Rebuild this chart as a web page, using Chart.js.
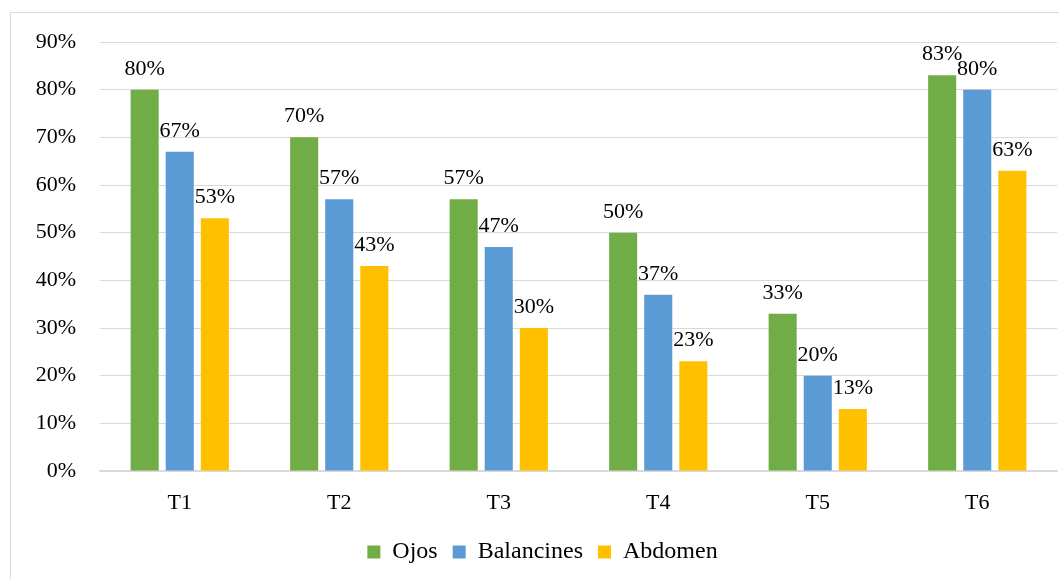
<!DOCTYPE html>
<html>
<head>
<meta charset="utf-8">
<script src="https://cdn.jsdelivr.net/npm/chart.js@4.4.1/dist/chart.umd.min.js"></script>
<style>
  html, body { margin: 0; padding: 0; background: #ffffff; overflow: hidden; }
  #frame {
    position: absolute; left: 10px; top: 12px;
    width: 1100px; height: 620px;
    border: 1px solid #d9d9d9; box-sizing: border-box;
  }
  #c { position: absolute; left: 0; top: 0; }
</style>
</head>
<body>
<div id="frame"></div>
<canvas id="c" width="1059" height="579"></canvas>
<script>
// Categories (treatments) and the share of each body part per treatment, in %
const categories = ['T1', 'T2', 'T3', 'T4', 'T5', 'T6'];
const ojos       = [80, 70, 57, 50, 33, 83];
const balancines = [67, 57, 47, 37, 20, 80];
const abdomen    = [53, 43, 30, 23, 13, 63];
const yTicks     = [0, 10, 20, 30, 40, 50, 60, 70, 80, 90];

const serif = "'Liberation Serif', 'Times New Roman', serif";

// Writes the percentage above each bar
const barValueLabels = {
  id: 'barValueLabels',
  afterDatasetsDraw(chart) {
    const ctx = chart.ctx;
    ctx.save();
    ctx.font = '22px ' + serif;
    ctx.fillStyle = '#000000';
    ctx.textAlign = 'center';
    ctx.textBaseline = 'alphabetic';
    chart.data.datasets.forEach((ds, i) => {
      chart.getDatasetMeta(i).data.forEach((bar, j) => {
        ctx.fillText(ds.data[j] + '%', bar.x, bar.y - 15);
      });
    });
    ctx.restore();
  }
};

new Chart(document.getElementById('c'), {
  type: 'bar',
  data: {
    labels: categories,
    datasets: [
      { label: 'Ojos', data: ojos, backgroundColor: '#70AD47' },
      { label: 'Balancines', data: balancines, backgroundColor: '#5B9BD5' },
      { label: 'Abdomen', data: abdomen, backgroundColor: '#FFC000' }
    ]
  },
  options: {
    responsive: false,
    animation: false,
    devicePixelRatio: 1,
    layout: { padding: { top: 42, right: 2, left: 28, bottom: 5 } },
    datasets: { bar: { categoryPercentage: 0.66, barPercentage: 0.8 } },
    plugins: {
      legend: {
        position: 'bottom',
        labels: {
          boxWidth: 13, boxHeight: 13, padding: 15,
          color: '#000000',
          font: { family: serif, size: 24 }
        }
      },
      tooltip: { enabled: false }
    },
    scales: {
      x: {
        grid: { display: false, drawTicks: false },
        border: { display: true, color: '#d9d9d9', width: 1.5 },
        ticks: { color: '#000000', padding: 19, font: { family: serif, size: 22 } },
        afterFit(scale) { scale.height = 54; }
      },
      y: {
        min: 0, max: 90,
        afterBuildTicks(scale) { scale.ticks = yTicks.map(v => ({ value: v })); },
        grid: { color: '#d9d9d9', lineWidth: 1, drawTicks: false },
        border: { display: false },
        ticks: {
          color: '#000000', padding: 24,
          font: { family: serif, size: 22 },
          callback: v => v + '%'
        },
        afterFit(scale) { scale.width = 72; }
      }
    }
  },
  plugins: [barValueLabels]
});
</script>
</body>
</html>
